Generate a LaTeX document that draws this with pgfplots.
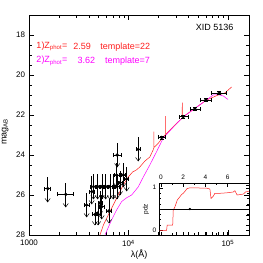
\documentclass[border=0pt]{standalone}
\usepackage{pgfplots}
\pgfplotsset{compat=1.18}
\usepackage{pgfplotstable}
\usepackage{fontspec}
\setmainfont{Liberation Sans}
\definecolor{myred}{RGB}{255,30,30}
\definecolor{mymag}{RGB}{255,0,255}
\pgfdeclareplotmark{vee}{%
  \pgfpathmoveto{\pgfpoint{-2.6pt}{3.6pt}}%
  \pgfpathlineto{\pgfpoint{0pt}{0pt}}%
  \pgfpathlineto{\pgfpoint{2.6pt}{3.6pt}}%
  \pgfusepathqstroke}

% detections: lambda, mag, x error minus/plus, y error
\pgfplotstableread{
lam mag xm xp ye
21570 23.12 1620 1710 0.08
35560 22.08 3200 4250 0.08
46550 21.70 5050 6660 0.08
60100 21.25 7740 8450 0.08
81900 20.90 13350 15150 0.08
}\det

% upper limits: lambda, mag, top of bar, arrow tip, x error minus/plus
\pgfplotstableread{
lam mag top tip xm xp
1540 25.68 25.08 26.35 127 112
2340 25.97 25.38 26.60 410 415
3800 26.50 25.90 27.10 250 250
4270 25.83 25.05 26.45 280 280
4450 25.58 24.95 26.20 300 300
4600 26.97 26.40 27.50 250 250
4950 26.97 26.40 27.50 250 250
4900 25.58 24.95 26.20 300 300
5170 26.40 25.80 27.00 250 250
5380 26.58 26.00 27.20 300 300
5400 25.58 24.95 26.20 350 350
5900 25.58 24.95 26.20 350 350
6370 26.80 26.20 27.40 350 350
6500 25.58 24.95 26.20 350 350
7030 25.58 24.95 26.20 400 400
7600 25.00 24.40 25.60 400 400
7650 25.58 24.95 26.20 400 400
7710 24.00 23.40 24.60 680 840
8220 25.38 24.80 26.00 400 400
8870 25.00 24.40 25.60 400 400
9600 25.20 24.60 25.80 450 450
12530 23.72 23.10 24.30 500 500
}\ul

% template 22
\pgfplotstableread{
lam mag
5170 28.00
5600 27.50
6030 27.17
6760 26.67
7890 26.00
8870 25.50
9960 25.10
11000 24.85
12000 24.75
13000 24.60
14650 24.30
16400 24.10
17700 23.75
18000 23.65
18030 22.83
18060 23.62
19900 23.42
22400 23.08
23600 22.98
23650 22.05
23700 22.96
28300 22.58
34700 22.15
34770 21.38
34850 22.13
35600 22.08
46500 21.67
61000 21.25
80000 21.00
93000 20.90
109000 20.60
}\tmplA

% template 7
\pgfplotstableread{
lam mag
5810 28.00
6760 27.25
7600 26.75
8540 26.33
9500 26.15
10770 26.00
12530 25.60
14100 25.10
16400 24.50
19200 23.83
22400 23.15
28300 22.60
35600 22.10
46500 21.67
61000 21.25
71000 21.00
80000 20.98
90000 21.05
100000 21.22
}\tmplB

% pdz
\pgfplotstableread{
z p
-0.12 0.00
0.50 0.00
0.55 0.12
1.05 0.12
1.10 0.47
1.25 0.55
1.46 0.71
1.85 0.84
2.00 0.87
2.10 0.90
2.35 0.98
2.60 1.00
4.10 0.99
4.40 0.97
4.50 0.75
4.70 0.80
4.85 0.87
5.30 0.87
5.90 0.88
6.50 0.90
6.65 0.93
6.85 0.83
7.40 0.85
7.60 0.90
7.92 0.92
}\pdz

\begin{document}
\begin{tikzpicture}
\useasboundingbox (0,0) rectangle (263pt,263pt);
\begin{axis}[
  at={(29pt,28pt)}, anchor=south west,
  scale only axis, width=220pt, height=220pt,
  xmode=log, xmin=1000, xmax=163000,
  ymin=17, ymax=28, y dir=reverse,
  ytick={18,20,...,28}, minor y tick num=3,
  xtick={1000,10000,100000},
  xticklabels={1000,10\textsuperscript{4},10\textsuperscript{5}},
  tick align=inside,
  major tick length=5pt, minor tick length=2.6pt,
  axis line style={line width=0.7pt},
  every tick/.style={black, line width=0.5pt},
  tick label style={font=\fontsize{8}{9}\selectfont},
  xticklabel style={yshift=-1.5pt},
  yticklabel style={xshift=-0.5pt},
  /pgf/number format/assume math mode=true,
  xlabel={λ(Å)}, ylabel={mag\textsubscript{AB}},
  xlabel style={font=\fontsize{9}{10}\selectfont, at={(axis description cs:0.5,-0.09)}, anchor=center},
  ylabel style={font=\fontsize{9}{10}\selectfont, at={(axis description cs:-0.109,0.47)}, anchor=center},
  clip=true,
]
\addplot[myred, line width=0.5pt] table[x=lam,y=mag]{\tmplA};
\addplot[mymag, line width=0.5pt] table[x=lam,y=mag]{\tmplB};
% vertical bars of upper limits
\addplot[black, draw=none, mark=none,
  error bars/.cd, y dir=both, y explicit, error mark=none,
  error bar style={line width=0.5pt, black}]
  table[x=lam, y=mag, y error plus expr=\thisrow{tip}-\thisrow{mag},
        y error minus expr=\thisrow{mag}-\thisrow{top}]{\ul};
% arrow heads
\addplot[black, only marks, mark=vee, mark options={line width=0.5pt}]
  table[x=lam, y=tip]{\ul};
% points with x error bars
\addplot[black, only marks, mark=*, mark size=1.5pt,
  error bars/.cd, x dir=both, x explicit,
  error bar style={line width=0.5pt, black},
  error mark options={black, mark size=2pt, rotate=90}]
  table[x=lam, y=mag, x error plus=xp, x error minus=xm]{\ul};
\addplot[black, only marks, mark=*, mark size=1.5pt,
  error bars/.cd, x dir=both, x explicit, y dir=both, y explicit,
  error bar style={line width=0.5pt, black},
  error mark options={black, mark size=2pt, rotate=90}]
  table[x=lam, y=mag, x error plus=xp, x error minus=xm, y error=ye]{\det};
\node[anchor=west, text=myred, font=\fontsize{9}{10}\selectfont] at (axis description cs:0.018,0.856) {1)Z\textsubscript{phot}=};
\node[anchor=west, text=myred, font=\fontsize{9}{10}\selectfont] at (axis description cs:0.186,0.856) {2.59};
\node[anchor=west, text=myred, font=\fontsize{9}{10}\selectfont] at (axis description cs:0.308,0.856) {template=22};
\node[anchor=west, text=mymag, font=\fontsize{9}{10}\selectfont] at (axis description cs:0.018,0.792) {2)Z\textsubscript{phot}=};
\node[anchor=west, text=mymag, font=\fontsize{9}{10}\selectfont] at (axis description cs:0.205,0.792) {3.62};
\node[anchor=west, text=mymag, font=\fontsize{9}{10}\selectfont] at (axis description cs:0.330,0.792) {template=7};
\node[anchor=east, font=\fontsize{9}{10}\selectfont] at (axis description cs:0.945,0.942) {XID 5136};
\end{axis}
\begin{axis}[
  at={(159.7pt,28pt)}, anchor=south west,
  scale only axis, width=89.3pt, height=51.5pt,
  xmin=-0.12, xmax=7.92, ymin=-0.11, ymax=1.10,
  xtick={0,2,4,6}, minor x tick num=1,
  ytick={0,0.5,1}, yticklabels={0,,1}, minor y tick num=3,
  xticklabel pos=upper,
  tick align=inside,
  major tick length=3pt, minor tick length=1.7pt,
  axis line style={line width=0.7pt},
  every tick/.style={black, line width=0.4pt},
  tick label style={font=\fontsize{6.5}{7}\selectfont},
  /pgf/number format/assume math mode=true,
  ylabel={pdz},
  ylabel style={font=\fontsize{6.5}{7}\selectfont, at={(axis description cs:-0.153,0.5)}, anchor=center},
]
\addplot[myred, line width=0.5pt] table[x=z,y=p]{\pdz};
\addplot[black, mark=*, mark size=0.9pt, line width=0.5pt,
  error bars/.cd, x dir=both, x explicit, error mark=none,
  error bar style={line width=0.5pt}]
  coordinates {(2.59,0.5) +- (5.33,0)};
\end{axis}
\end{tikzpicture}
\end{document}
